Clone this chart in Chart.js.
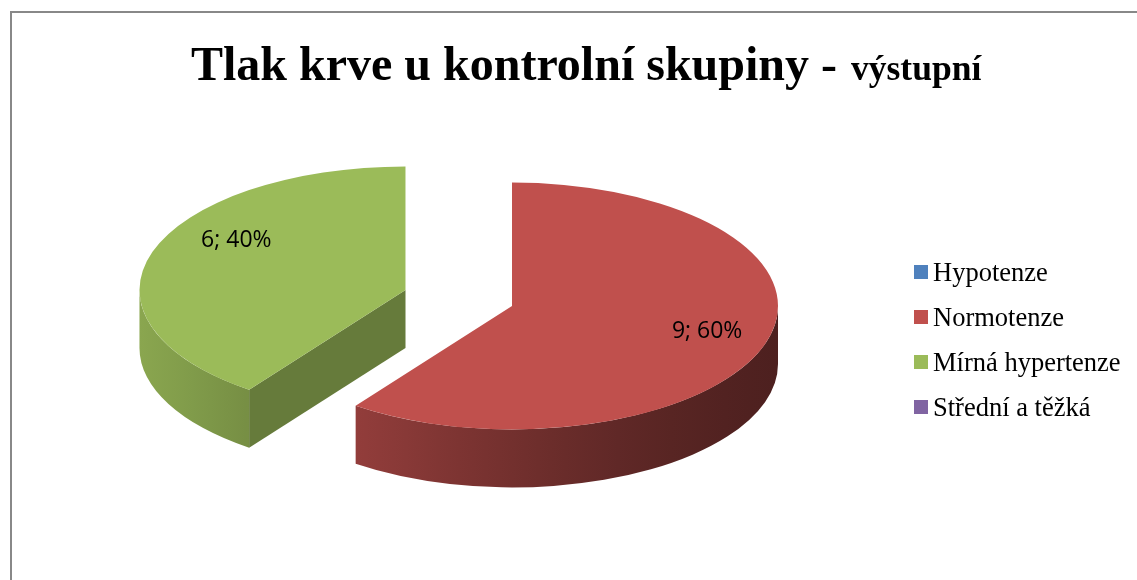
<!DOCTYPE html>
<html lang="cs">
<head>
<meta charset="utf-8">
<title>Tlak krve u kontrolní skupiny - výstupní</title>
<script src="https://cdn.jsdelivr.net/npm/chart.js@4.4.1/dist/chart.umd.min.js"></script>
<style>
  html, body { margin: 0; padding: 0; background: #fff; overflow: hidden; }
  .frame {
    position: absolute; left: 10px; top: 11px;
    width: 1200px; height: 700px;
    border: 2px solid #888;
  }
  #pie { position: absolute; left: 0; top: 0; }
</style>
</head>
<body>
<div class="frame"></div>
<canvas id="pie" width="1137" height="580"></canvas>
<script>
// ===== DATA =====
const categories = ["Hypotenze", "Normotenze", "Mírná hypertenze", "Střední a těžká"];
const counts = [0, 9, 6, 0];
const sliceColors = ["#4f81bd", "#c0504d", "#9bbb59", "#8064a2"];
const titleMain = "Tlak krve u kontrolní skupiny - ";
const titleSub = "výstupní";

// ===== HELPERS =====
function shade(hex, f) {
  const r = Math.round(parseInt(hex.slice(1, 3), 16) * f);
  const g = Math.round(parseInt(hex.slice(3, 5), 16) * f);
  const b = Math.round(parseInt(hex.slice(5, 7), 16) * f);
  return `rgb(${r}, ${g}, ${b})`;
}

// light comes from the left, so the rim gets darker towards the right
// u = cos of the rim angle: -1 at the left edge, 1 at the right edge
function rimShade(u) {
  const t = (1 - u) / 2;
  return 0.4 + 0.49 * Math.pow(t, 1.3);
}

// ===== 3D PIE PLUGIN =====
// draws the walls under each slice, then the library's arcs squashed
// into a tilted plane on top of them
const pie3d = {
  id: "pie3d",
  beforeDatasetsDraw(chart, args, opts) {
    const ctx = chart.ctx;
    const colors = chart.data.datasets[0].backgroundColor;
    const k = opts.tilt;
    const depth = opts.depth;
    const slices = [];

    chart.getDatasetMeta(0).data.forEach((arc, i) => {
      const p = arc.getProps(["x", "y", "startAngle", "endAngle", "outerRadius"], true);
      if (p.endAngle - p.startAngle <= 0) return;
      const mid = (p.startAngle + p.endAngle) / 2;
      const pull = opts.explode[i] || 0;
      slices.push({
        arc, p, i, mid,
        color: colors[i],
        cx: opts.centerX + Math.cos(mid) * pull,
        cy: opts.centerY + Math.sin(mid) * pull * k,
      });
    });
    chart.$pie3d = slices;

    // walls
    slices.forEach((s) => {
      const a = s.p.startAngle;
      const b = s.p.endAngle;
      const r = s.p.outerRadius;
      const ry = r * k;

      // cut faces along the slice edges, only those turned to the viewer
      [[a, -1], [b, 1]].forEach(([ang, side]) => {
        if (Math.cos(ang) * side <= 0.05) return;
        const ex = s.cx + r * Math.cos(ang);
        const ey = s.cy + ry * Math.sin(ang);
        ctx.beginPath();
        ctx.moveTo(s.cx, s.cy);
        ctx.lineTo(ex, ey);
        ctx.lineTo(ex, ey + depth);
        ctx.lineTo(s.cx, s.cy + depth);
        ctx.closePath();
        ctx.fillStyle = shade(s.color, opts.faceShade);
        ctx.fill();
      });

      // outer rim, front half only
      const t0 = Math.max(a, 0);
      const t1 = Math.min(b, Math.PI);
      if (t1 > t0) {
        ctx.beginPath();
        ctx.ellipse(s.cx, s.cy, r, ry, 0, t0, t1, false);
        ctx.ellipse(s.cx, s.cy + depth, r, ry, 0, t1, t0, true);
        ctx.closePath();
        const grad = ctx.createLinearGradient(s.cx - r, 0, s.cx + r, 0);
        for (let j = 0; j <= 10; j++) {
          grad.addColorStop(j / 10, shade(s.color, rimShade(-1 + j / 5)));
        }
        ctx.fillStyle = grad;
        ctx.fill();
      }
    });

    // top faces
    slices.forEach((s) => {
      ctx.save();
      ctx.translate(s.cx, s.cy);
      ctx.scale(1, k);
      ctx.translate(-s.p.x, -s.p.y);
      s.arc.draw(ctx);
      ctx.restore();
    });

    return false;
  },

  afterDraw(chart, args, opts) {
    const ctx = chart.ctx;
    const data = chart.data.datasets[0].data;
    const colors = chart.data.datasets[0].backgroundColor;
    const total = data.reduce((sum, v) => sum + v, 0);
    ctx.save();

    // title
    ctx.fillStyle = "#000";
    ctx.textAlign = "left";
    ctx.textBaseline = "alphabetic";
    ctx.font = 'bold 48px "Liberation Serif"';
    ctx.fillText(titleMain, 191, 80);
    const mainW = ctx.measureText(titleMain).width;
    ctx.font = 'bold 35.5px "Liberation Serif"';
    ctx.fillText(titleSub, 191 + mainW + 2, 80);

    // value labels
    ctx.font = '23px "Open Sans"';
    ctx.textAlign = "center";
    ctx.textBaseline = "middle";
    (chart.$pie3d || []).forEach((s) => {
      const v = data[s.i];
      const pct = Math.round((v / total) * 100);
      const r = s.p.outerRadius;
      const lx = s.cx + Math.cos(s.mid) * r * opts.labelRadiusX + opts.labelShiftX;
      const ly = s.cy + Math.sin(s.mid) * r * opts.tilt * opts.labelRadiusY + opts.labelShiftY;
      ctx.fillText(`${v}; ${pct}%`, lx, ly);
    });

    // legend
    ctx.font = '26.5px "Liberation Serif"';
    ctx.textAlign = "left";
    ctx.textBaseline = "alphabetic";
    chart.data.labels.forEach((label, i) => {
      const base = 280.5 + i * 45;
      ctx.fillStyle = colors[i];
      ctx.fillRect(914, base - 15.5, 14, 14);
      ctx.fillStyle = "#000";
      ctx.fillText(label, 933, base);
    });

    ctx.restore();
  },
};

// ===== CHART =====
new Chart(document.getElementById("pie"), {
  type: "pie",
  data: {
    labels: categories,
    datasets: [
      {
        data: counts,
        backgroundColor: sliceColors,
        borderWidth: 0,
        radius: 266,
      },
    ],
  },
  options: {
    responsive: false,
    animation: false,
    events: [],
    radius: 266,
    plugins: {
      legend: { display: false },
      tooltip: { enabled: false },
      title: { display: false },
      pie3d: {
        centerX: 512,
        centerY: 306,
        tilt: 0.464,
        depth: 58,
        explode: [0, 0, 112, 0],
        faceShade: 0.66,
        labelRadiusX: 0.72,
        labelRadiusY: 0.98,
        labelShiftX: 13,
        labelShiftY: -12,
      },
    },
  },
  plugins: [pie3d],
});
</script>
</body>
</html>
